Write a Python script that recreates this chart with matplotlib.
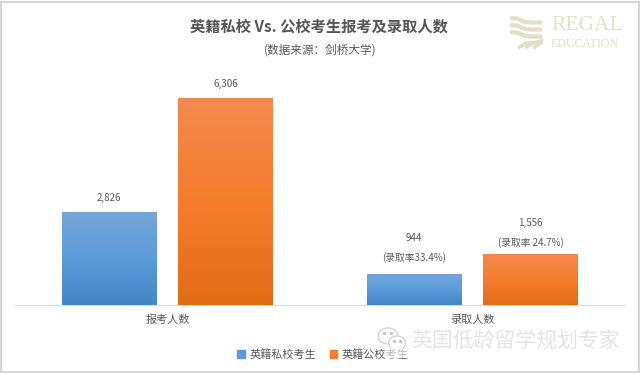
import matplotlib

matplotlib.use("Agg")
import matplotlib.patheffects as pe
import matplotlib.pyplot as plt
import numpy as np
from matplotlib.colors import LinearSegmentedColormap
from matplotlib.patches import Ellipse, Rectangle

plt.rcParams["font.family"] = ["Noto Sans CJK SC", "DejaVu Sans"]

categories = ["报考人数", "录取人数"]
private_label = "英籍私校考生"
public_label = "英籍公校考生"
private_values = [2826, 944]
public_values = [6306, 1556]
private_notes = ["2,826", "944\n(录取率33.4%)"]
public_notes = ["6,306", "1,556\n(录取率 24.7%)"]
title = "英籍私校 Vs. 公校考生报考及录取人数"
subtitle = "(数据来源：剑桥大学)"
watermark = "英国低龄留学规划专家"

BLUE_STOPS = ["#4685c6", "#5b9bd9", "#74a6da"]
ORANGE_STOPS = ["#e36c17", "#f57d2c", "#f2894f"]
TEXT = "#595959"
KHAKI = "#e2e0c4"


def gradient_bars(ax, bars, stops):
    cmap = LinearSegmentedColormap.from_list("bar", stops)
    grad = np.linspace(0, 1, 128).reshape(-1, 1)
    for bar in bars:
        x0, y0 = bar.get_x(), bar.get_y()
        im = ax.imshow(
            grad,
            cmap=cmap,
            origin="lower",
            aspect="auto",
            extent=(x0, x0 + bar.get_width(), y0, y0 + bar.get_height()),
            zorder=3,
        )
        im.set_clip_path(bar)


fig = plt.figure(figsize=(6.4, 3.74), dpi=100)
fig.patch.set_facecolor("white")
fig.add_artist(
    Rectangle(
        (0.002, 0.005), 0.996, 0.99,
        transform=fig.transFigure, fill=False, edgecolor="#d6d6d6", linewidth=1.5,
    )
)

ax = fig.add_axes([15 / 640, 1 - 305 / 374, 610 / 640, 230 / 374])
x = np.arange(len(categories))
width = 0.311
offset = 0.191

shadow = [pe.SimplePatchShadow(offset=(0, 0), shadow_rgbFace="#777777", alpha=0.35), pe.Normal()]
bars_a = ax.bar(x - offset, private_values, width, color=BLUE_STOPS[1], zorder=2, path_effects=shadow)
bars_b = ax.bar(x + offset, public_values, width, color=ORANGE_STOPS[1], zorder=2, path_effects=shadow)

ax.set_xlim(-0.5, 1.5)
ax.set_ylim(0, 230 / 0.03275)
gradient_bars(ax, bars_a, BLUE_STOPS)
gradient_bars(ax, bars_b, ORANGE_STOPS)

# gap above each bar differs a little in the original
for bars, notes, gaps in ((bars_a, private_notes, (6.5, 8)), (bars_b, public_notes, (7, 4.5))):
    for bar, note, gap in zip(bars, notes, gaps):
        ax.annotate(
            note,
            (bar.get_x() + bar.get_width() / 2, bar.get_height()),
            xytext=(0, gap),
            textcoords="offset points",
            ha="center",
            va="bottom",
            fontsize=7,
            color=TEXT,
            linespacing=2.0,
        )

for side in ("top", "left", "right"):
    ax.spines[side].set_visible(False)
ax.spines["bottom"].set_color("#d9d9d9")
ax.spines["bottom"].set_linewidth(0.8)
ax.set_yticks([])
ax.set_xticks(x)
ax.set_xticklabels(categories, fontsize=8, color=TEXT)
ax.tick_params(axis="x", length=0, pad=7)
ax.patch.set_alpha(0)

fig.text(319 / 640, 1 - 27 / 374, title, ha="center", va="center", fontsize=11, fontweight="bold", color="#555555")
fig.text(320 / 640, 1 - 50.5 / 374, subtitle, ha="center", va="center", fontsize=8.4, color=TEXT)

handles = [
    Rectangle((0, 0), 1, 1, color=BLUE_STOPS[1]),
    Rectangle((0, 0), 1, 1, color=ORANGE_STOPS[1]),
]
fig.legend(
    handles,
    [private_label, public_label],
    loc="center",
    bbox_to_anchor=(323 / 640, 1 - 354.5 / 374),
    ncol=2,
    frameon=False,
    fontsize=8,
    labelcolor=TEXT,
    handlelength=0.7,
    handleheight=0.7,
    handletextpad=0.4,
    columnspacing=1.2,
)

# logo, top right
fig.text(551 / 640, 1 - 25 / 374, "REGAL", family="Liberation Serif", fontsize=15.5, color=KHAKI, va="center")
fig.text(551 / 640, 1 - 44 / 374, "EDUCATION", family="Liberation Serif", fontsize=8.6, color=KHAKI, va="center")
logo = fig.add_axes([508 / 640, 1 - 50 / 374, 36 / 640, 36 / 374])
logo.set_xlim(0, 36)
logo.set_ylim(36, 0)
logo.axis("off")
for row in (4, 11, 18):
    xs = np.array([2, 9, 17, 24, 34])
    ys = row + np.array([0, 0.5, 4, 4.5, 4.5])
    logo.plot(xs, ys, color=KHAKI, lw=3, solid_capstyle="butt")
for start in (10, 17, 25):
    logo.plot([start, start + 8, 34], [34, 29, 28 - (start - 10) * 0.2], color=KHAKI, lw=2.6, solid_capstyle="butt")

# wechat watermark, bottom right
fig.add_artist(
    Ellipse(
        (396 / 640, 1 - 353 / 374), 24 / 640, 12 / 374,
        transform=fig.transFigure, facecolor="white", edgecolor="none", alpha=0.6, zorder=9,
    )
)
fig.text(
    516 / 640, 1 - 341.5 / 374, watermark, ha="center", va="center",
    fontsize=15, color="#e4e4e4", zorder=10,
)
mark = fig.add_axes([376 / 640, 1 - 352 / 374, 34 / 640, 26 / 374])
mark.set_xlim(0, 34)
mark.set_ylim(26, 0)
mark.axis("off")
for xy, w, h in (((12, 10), 20, 16), ((21, 17), 17, 14)):
    mark.add_patch(Ellipse(xy, w, h, facecolor="white", edgecolor="#cfcfcf", linewidth=0.9))
for px, py in ((8, 7), (15, 7), (18, 15), (24, 15)):
    mark.plot(px, py, "o", markersize=1.4, color="#c4c4c4")

fig.savefig("out.png", dpi=100)
